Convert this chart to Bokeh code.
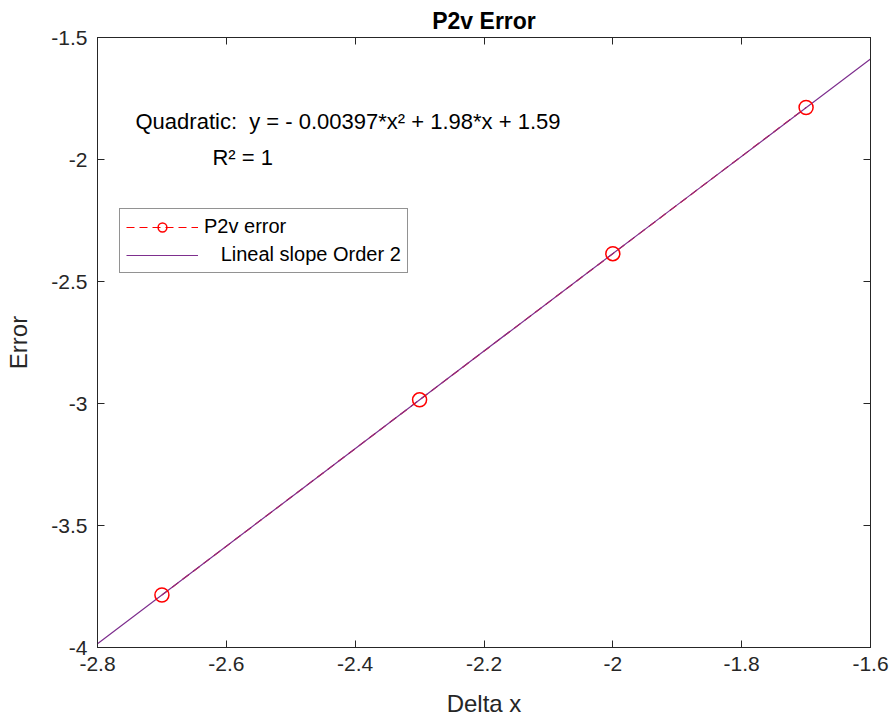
from bokeh.plotting import figure
from bokeh.models import (FixedTicker, CustomJSTickFormatter, LinearAxis, Range1d,
                          Legend, LegendItem, Label, CustomLabelingPolicy)
from bokeh.embed import file_html
from bokeh.resources import INLINE

# ---- data ----
delta_x = [-2.7, -2.3, -2.0, -1.7]
p2v_error = [-3.785, -2.985, -2.386, -1.787]

fit_x = [-2.8, -2.5, -2.2, -1.9, -1.6]
fit_y = [-3.985, -3.385, -2.785, -2.186, -1.588]

x_ticks = [-2.8, -2.6, -2.4, -2.2, -2.0, -1.8, -1.6]
y_ticks = [-4.0, -3.5, -3.0, -2.5, -2.0, -1.5]

title_text = "P2v Error"
xlabel = "Delta x"
ylabel = "Error"
eq_text = "Quadratic:\u00a0 y = - 0.00397*x\u00b2 + 1.98*x + 1.59"
r2_text = "R\u00b2 = 1"
legend_labels = ["P2v error", "\u00a0\u00a0\u00a0Lineal slope Order 2"]

AX = "#262626"
FONT = "Liberation Sans"

p = figure(width=895, height=726, output_backend="svg", toolbar_location=None,
           x_range=Range1d(-2.8, -1.6), y_range=Range1d(-4.0, -1.5),
           min_border_left=97, min_border_right=25, min_border_top=37, min_border_bottom=79,
           x_axis_label=xlabel, y_axis_label=ylabel)

p.title.text = title_text
p.title.align = "center"
p.title.text_font = FONT
p.title.text_font_size = "23px"
p.title.text_font_style = "bold"
p.title.text_color = "black"
p.title.offset = 0
p.title.standoff = 8

p.grid.visible = False
p.outline_line_color = AX
p.outline_line_width = 1
p.background_fill_color = "white"
p.border_fill_color = "white"

fmt = CustomJSTickFormatter(code="return Number(tick.toFixed(2)).toString();")

for ax, ticks in ((p.xaxis[0], x_ticks), (p.yaxis[0], y_ticks)):
    ax.ticker = FixedTicker(ticks=ticks)
    ax.formatter = fmt
    ax.major_tick_in = 7
    ax.major_tick_out = 0
    ax.minor_tick_line_color = None
    ax.axis_line_color = AX
    ax.major_tick_line_color = AX
    ax.major_label_text_font = FONT
    ax.major_label_text_font_size = "21px"
    ax.major_label_text_color = AX
    ax.axis_label_text_font = FONT
    ax.axis_label_text_font_size = "24px"
    ax.axis_label_text_font_style = "normal"
    ax.axis_label_text_color = AX

p.xaxis[0].major_label_standoff = 9
p.xaxis[0].axis_label_standoff = 16
p.yaxis[0].major_label_standoff = 10
p.yaxis[0].axis_label_standoff = 16

no_labels = CustomLabelingPolicy(code="""
const all = [];
for (const i of indices) all.push(i);
for (const i of all) indices.unset(i);
return indices;
""")

# top and right axes: ticks only
top = LinearAxis(ticker=FixedTicker(ticks=x_ticks), major_tick_in=7, major_tick_out=0,
                 minor_tick_line_color=None, axis_line_color=AX, major_tick_line_color=AX,
                 major_label_policy=no_labels, major_label_text_font_size="0px",
                 major_label_standoff=0)
right = LinearAxis(ticker=FixedTicker(ticks=y_ticks), major_tick_in=7, major_tick_out=0,
                   minor_tick_line_color=None, axis_line_color=AX, major_tick_line_color=AX,
                   major_label_policy=no_labels, major_label_text_font_size="0px",
                   major_label_standoff=0)
p.add_layout(top, "above")
p.add_layout(right, "right")

RED = "#FF0000"
PURPLE = "#7E2F8E"

r_dash = p.line(delta_x, p2v_error, line_color=RED, line_dash="8 5", line_width=1.2)
r_fit = p.line(fit_x, fit_y, line_color=PURPLE, line_width=1.2)
r_pts = p.scatter(delta_x, p2v_error, marker="circle", size=14, fill_color=None,
                  line_color=RED, line_width=1.5)

legend = Legend(items=[LegendItem(label=legend_labels[0], renderers=[r_dash, r_pts]),
                       LegendItem(label=legend_labels[1], renderers=[r_fit])],
                location=(22, 374), orientation="vertical",
                label_text_font=FONT, label_text_font_size="20px", label_text_color="black",
                border_line_color="#262626", border_line_width=1,
                background_fill_color="white", background_fill_alpha=1,
                glyph_width=72, glyph_height=22, label_height=22, spacing=5,
                padding=6, margin=0, label_standoff=6)
p.add_layout(legend, "center")

p.add_layout(Label(x=-2.741, y=-1.844, text=eq_text, text_font=FONT, text_font_size="22px",
                   text_color="black", text_baseline="middle"))
p.add_layout(Label(x=-2.6215, y=-1.992, text=r2_text, text_font=FONT, text_font_size="22px",
                   text_color="black", text_baseline="middle"))

open("out.html", "w").write(file_html(p, INLINE))
